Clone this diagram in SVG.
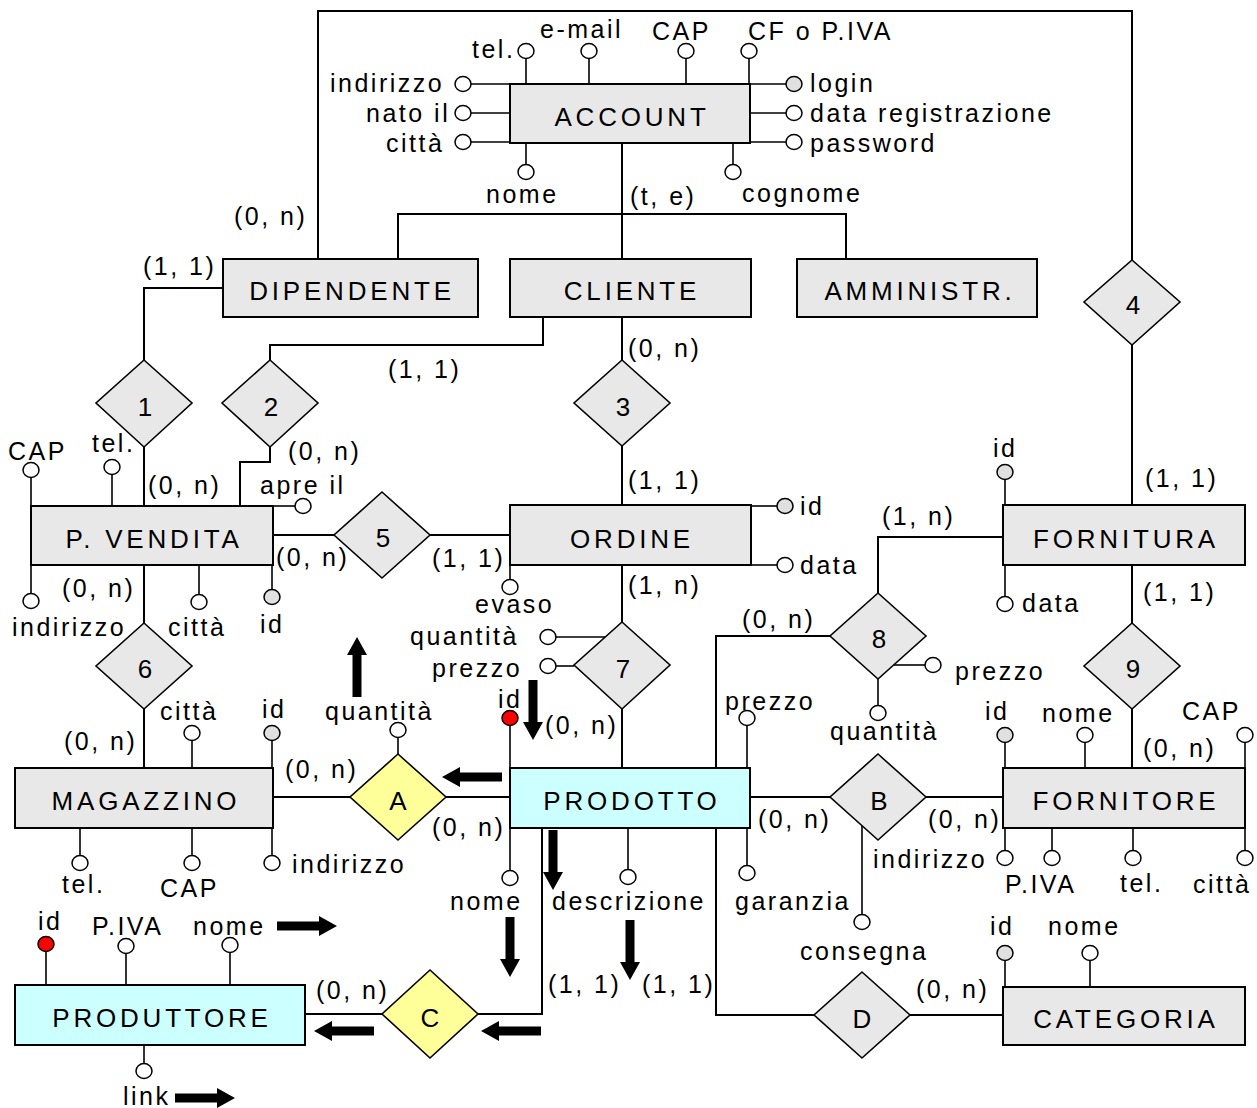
<svg xmlns="http://www.w3.org/2000/svg" xmlns:xlink="http://www.w3.org/1999/xlink" width="1257" height="1108" viewBox="0 0 1257 1108">
<style>
.ent{fill:#e8e8e8;stroke:#000;stroke-width:2}
.cy{fill:#ccffff;stroke:#000;stroke-width:2}
.rel{fill:#e8e8e8;stroke:#000;stroke-width:1.6}
.yel{fill:#ffff99;stroke:#000;stroke-width:1.6}
.ln{fill:none;stroke:#000;stroke-width:2}
.st{fill:none;stroke:#000;stroke-width:1.6}
.at{fill:#fff;stroke:#000;stroke-width:1.5}
.key{fill:#e0e0e0;stroke:#000;stroke-width:1.5}
.red{fill:#ff0000;stroke:#000;stroke-width:1.5}
text{font-family:"Liberation Sans",Arial,sans-serif;fill:#000}
.t{font-size:25px;letter-spacing:2.5px}
.en{font-size:26px;letter-spacing:3.8px;text-anchor:middle}
.dn{font-size:26px;text-anchor:middle}
.arr{fill:#000}
</style>
<defs>
<path id="ar" d="M-4.5,0 H4.5 V42 H10 L0,60 L-10,42 H-4.5 Z"/>
</defs>

<g id="connectors">
<polyline class="ln" points="318,259 318,11 1132,11 1132,260"/>
<line class="ln" x1="622" y1="143" x2="622" y2="259"/>
<polyline class="ln" points="398,259 398,214 846,214 846,259"/>
<polyline class="ln" points="223,288 144,288 144,360"/>
<line class="ln" x1="144" y1="447" x2="144" y2="506"/>
<polyline class="ln" points="543,317 543,345 270,345 270,360"/>
<polyline class="ln" points="270,447 270,462 240,462 240,506"/>
<line class="ln" x1="622" y1="317" x2="622" y2="360"/>
<line class="ln" x1="622" y1="446" x2="622" y2="505"/>
<line class="ln" x1="273" y1="535" x2="334" y2="535"/>
<line class="ln" x1="430" y1="535" x2="510" y2="535"/>
<line class="ln" x1="622" y1="565" x2="622" y2="622"/>
<line class="ln" x1="622" y1="709" x2="622" y2="768"/>
<line class="ln" x1="144" y1="565" x2="144" y2="623"/>
<line class="ln" x1="144" y1="709" x2="144" y2="768"/>
<line class="ln" x1="273" y1="797" x2="350" y2="797"/>
<line class="ln" x1="446" y1="797" x2="510" y2="797"/>
<line class="ln" x1="750" y1="797" x2="830" y2="797"/>
<line class="ln" x1="926" y1="797" x2="1003" y2="797"/>
<line class="ln" x1="1132" y1="345" x2="1132" y2="505"/>
<line class="ln" x1="1132" y1="565" x2="1132" y2="623"/>
<line class="ln" x1="1132" y1="709" x2="1132" y2="768"/>
<polyline class="ln" points="1003,537 878,537 878,593"/>
<polyline class="ln" points="830,636 716,636 716,768"/>
<polyline class="ln" points="716,828 716,1015 814,1015"/>
<line class="ln" x1="910" y1="1015" x2="1003" y2="1015"/>
<polyline class="ln" points="542,828 542,1014 478,1014"/>
<line class="ln" x1="383" y1="1014" x2="305" y2="1014"/>
</g>

<g id="cardinalities" class="t">
<text x="234" y="225">(0, n)</text>
<text x="630" y="205">(t, e)</text>
<text x="143" y="275">(1, 1)</text>
<text x="388" y="378">(1, 1)</text>
<text x="628" y="357">(0, n)</text>
<text x="148" y="494">(0, n)</text>
<text x="288" y="460">(0, n)</text>
<text x="628" y="489">(1, 1)</text>
<text x="1145" y="487">(1, 1)</text>
<text x="882" y="525">(1, n)</text>
<text x="276" y="566">(0, n)</text>
<text x="432" y="567">(1, 1)</text>
<text x="62" y="597">(0, n)</text>
<text x="628" y="594">(1, n)</text>
<text x="1143" y="601">(1, 1)</text>
<text x="742" y="628">(0, n)</text>
<text x="545" y="734">(0, n)</text>
<text x="64" y="750">(0, n)</text>
<text x="1143" y="757">(0, n)</text>
<text x="285" y="778">(0, n)</text>
<text x="432" y="836">(0, n)</text>
<text x="758" y="828">(0, n)</text>
<text x="928" y="828">(0, n)</text>
<text x="548" y="993">(1, 1)</text>
<text x="642" y="993">(1, 1)</text>
<text x="316" y="999">(0, n)</text>
<text x="916" y="998">(0, n)</text>
</g>

<g id="account">
<line class="st" x1="526" y1="58" x2="526" y2="84"/>
<line class="st" x1="589" y1="58" x2="589" y2="84"/>
<line class="st" x1="686" y1="58" x2="686" y2="84"/>
<line class="st" x1="749" y1="58" x2="749" y2="143"/>
<line class="st" x1="471" y1="84" x2="510" y2="84"/>
<line class="st" x1="471" y1="113" x2="510" y2="113"/>
<line class="st" x1="471" y1="142" x2="510" y2="142"/>
<line class="st" x1="526" y1="143" x2="526" y2="165"/>
<line class="st" x1="733" y1="143" x2="733" y2="165"/>
<line class="st" x1="750" y1="84" x2="786" y2="84"/>
<line class="st" x1="745" y1="113" x2="786" y2="113"/>
<line class="st" x1="750" y1="142" x2="786" y2="142"/>
<rect class="ent" x="510" y="84" width="240" height="59"/>
<text class="en" x="632" y="126">ACCOUNT</text>
<ellipse class="at" cx="526" cy="51" rx="8" ry="7.5"/>
<ellipse class="at" cx="589" cy="51" rx="8" ry="7.5"/>
<ellipse class="at" cx="686" cy="51" rx="8" ry="7.5"/>
<ellipse class="at" cx="749" cy="51" rx="8" ry="7.5"/>
<ellipse class="at" cx="463" cy="84" rx="8" ry="7.5"/>
<ellipse class="at" cx="463" cy="113" rx="8" ry="7.5"/>
<ellipse class="at" cx="463" cy="142" rx="8" ry="7.5"/>
<ellipse class="at" cx="526" cy="172" rx="8" ry="7.5"/>
<ellipse class="at" cx="733" cy="172" rx="8" ry="7.5"/>
<ellipse class="key" cx="794" cy="84" rx="8" ry="7.5"/>
<ellipse class="at" cx="794" cy="113" rx="8" ry="7.5"/>
<ellipse class="at" cx="794" cy="142" rx="8" ry="7.5"/>
<g class="t">
<text x="472" y="58">tel.</text>
<text x="540" y="38">e-mail</text>
<text x="652" y="40">CAP</text>
<text x="748" y="40">CF o P.IVA</text>
<text x="330" y="92">indirizzo</text>
<text x="366" y="122">nato il</text>
<text x="386" y="152">città</text>
<text x="486" y="203">nome</text>
<text x="742" y="202">cognome</text>
<text x="810" y="92">login</text>
<text x="810" y="122">data registrazione</text>
<text x="810" y="152">password</text>
</g>
</g>

<g id="dipendente">
<rect class="ent" x="223" y="259" width="255" height="58"/>
<text class="en" x="352" y="300">DIPENDENTE</text>
</g>
<g id="cliente">
<rect class="ent" x="510" y="259" width="241" height="58"/>
<text class="en" x="632" y="300">CLIENTE</text>
</g>
<g id="amministr">
<rect class="ent" x="797" y="259" width="240" height="58"/>
<text class="en" x="920" y="300">AMMINISTR.</text>
</g>

<g id="rel1"><polygon class="rel" points="144,360 192,403 144,447 96,403"/><text class="dn" x="145" y="416">1</text></g>
<g id="rel2"><polygon class="rel" points="270,360 318,403 270,447 222,403"/><text class="dn" x="271" y="416">2</text></g>
<g id="rel3"><polygon class="rel" points="622,360 670,403 622,446 574,403"/><text class="dn" x="623" y="416">3</text></g>
<g id="rel4"><polygon class="rel" points="1132,260 1180,302 1132,345 1084,302"/><text class="dn" x="1133" y="314">4</text></g>
<g id="rel5"><polygon class="rel" points="382,492 430,535 382,578 334,535"/><text class="dn" x="383" y="547">5</text></g>
<g id="rel6"><polygon class="rel" points="144,623 192,666 144,709 96,666"/><text class="dn" x="145" y="678">6</text></g>

<g id="rel7">
<line class="st" x1="556" y1="637" x2="606" y2="637"/>
<line class="st" x1="556" y1="666" x2="574" y2="666"/>
<polygon class="rel" points="622,622 670,665 622,709 574,665"/>
<text class="dn" x="623" y="678">7</text>
<ellipse class="at" cx="548" cy="637" rx="8" ry="7.5"/>
<ellipse class="at" cx="548" cy="666" rx="8" ry="7.5"/>
<text class="t" x="410" y="645">quantità</text>
<text class="t" x="432" y="677">prezzo</text>
</g>

<g id="rel8">
<line class="st" x1="894" y1="665" x2="925" y2="665"/>
<line class="st" x1="878" y1="679" x2="878" y2="706"/>
<polygon class="rel" points="878,593 926,636 878,679 830,636"/>
<text class="dn" x="879" y="648">8</text>
<ellipse class="at" cx="933" cy="665" rx="8" ry="7.5"/>
<ellipse class="at" cx="878" cy="713" rx="8" ry="7.5"/>
<text class="t" x="955" y="680">prezzo</text>
<text class="t" x="830" y="740">quantità</text>
</g>

<g id="rel9"><polygon class="rel" points="1132,623 1180,666 1132,709 1084,666"/><text class="dn" x="1133" y="678">9</text></g>

<g id="relA">
<line class="st" x1="398" y1="737" x2="398" y2="754"/>
<polygon class="yel" points="398,754 446,797 398,840 350,797"/>
<text class="dn" x="398" y="810">A</text>
<ellipse class="at" cx="398" cy="730" rx="8" ry="7.5"/>
<text class="t" x="325" y="720">quantità</text>
</g>

<g id="relB">
<line class="st" x1="862" y1="826" x2="862" y2="915"/>
<polygon class="rel" points="878,754 926,797 878,840 830,797"/>
<text class="dn" x="879" y="810">B</text>
<ellipse class="at" cx="862" cy="922" rx="8" ry="7.5"/>
<text class="t" x="800" y="960">consegna</text>
</g>

<g id="relC"><polygon class="yel" points="430,970 478,1014 430,1058 382,1014"/><text class="dn" x="430" y="1027">C</text></g>
<g id="relD"><polygon class="rel" points="862,972 910,1015 862,1058 814,1015"/><text class="dn" x="862" y="1028">D</text></g>

<g id="pvendita">
<line class="st" x1="31" y1="477" x2="31" y2="506"/>
<line class="st" x1="112" y1="474" x2="112" y2="506"/>
<line class="st" x1="273" y1="506" x2="295" y2="506"/>
<line class="st" x1="31" y1="565" x2="31" y2="594"/>
<line class="st" x1="199" y1="565" x2="199" y2="595"/>
<line class="st" x1="272" y1="565" x2="272" y2="590"/>
<rect class="ent" x="31" y="506" width="242" height="59"/>
<text class="en" x="154" y="548">P. VENDITA</text>
<ellipse class="at" cx="31" cy="470" rx="8" ry="7.5"/>
<ellipse class="at" cx="112" cy="467" rx="8" ry="7.5"/>
<ellipse class="at" cx="303" cy="506" rx="8" ry="7.5"/>
<ellipse class="at" cx="31" cy="601" rx="8" ry="7.5"/>
<ellipse class="at" cx="199" cy="602" rx="8" ry="7.5"/>
<ellipse class="key" cx="272" cy="597" rx="8" ry="7.5"/>
<g class="t">
<text x="8" y="460">CAP</text>
<text x="92" y="452">tel.</text>
<text x="260" y="494">apre il</text>
<text x="12" y="636">indirizzo</text>
<text x="168" y="636">città</text>
<text x="260" y="633">id</text>
</g>
</g>

<g id="ordine">
<line class="st" x1="751" y1="506" x2="777" y2="506"/>
<line class="st" x1="751" y1="565" x2="777" y2="565"/>
<line class="st" x1="510" y1="565" x2="510" y2="580"/>
<rect class="ent" x="510" y="505" width="241" height="60"/>
<text class="en" x="632" y="548">ORDINE</text>
<ellipse class="key" cx="785" cy="506" rx="8" ry="7.5"/>
<ellipse class="at" cx="785" cy="565" rx="8" ry="7.5"/>
<ellipse class="at" cx="510" cy="587" rx="8" ry="7.5"/>
<g class="t">
<text x="800" y="515">id</text>
<text x="800" y="574">data</text>
<text x="475" y="613">evaso</text>
</g>
</g>

<g id="fornitura">
<line class="st" x1="1005" y1="479" x2="1005" y2="505"/>
<line class="st" x1="1005" y1="565" x2="1005" y2="597"/>
<rect class="ent" x="1003" y="505" width="242" height="60"/>
<text class="en" x="1126" y="548">FORNITURA</text>
<ellipse class="key" cx="1005" cy="472" rx="8" ry="7.5"/>
<ellipse class="at" cx="1005" cy="604" rx="8" ry="7.5"/>
<text class="t" x="993" y="457">id</text>
<text class="t" x="1022" y="612">data</text>
</g>

<g id="magazzino">
<line class="st" x1="192" y1="740" x2="192" y2="768"/>
<line class="st" x1="272" y1="740" x2="272" y2="768"/>
<line class="st" x1="80" y1="828" x2="80" y2="856"/>
<line class="st" x1="192" y1="828" x2="192" y2="856"/>
<line class="st" x1="272" y1="828" x2="272" y2="856"/>
<rect class="ent" x="15" y="768" width="258" height="60"/>
<text class="en" x="146" y="810">MAGAZZINO</text>
<ellipse class="at" cx="192" cy="733" rx="8" ry="7.5"/>
<ellipse class="key" cx="272" cy="733" rx="8" ry="7.5"/>
<ellipse class="at" cx="80" cy="863" rx="8" ry="7.5"/>
<ellipse class="at" cx="192" cy="863" rx="8" ry="7.5"/>
<ellipse class="at" cx="272" cy="863" rx="8" ry="7.5"/>
<g class="t">
<text x="160" y="720">città</text>
<text x="262" y="718">id</text>
<text x="62" y="893">tel.</text>
<text x="160" y="897">CAP</text>
<text x="292" y="873">indirizzo</text>
</g>
</g>

<g id="prodotto">
<line class="st" x1="510" y1="725" x2="510" y2="768"/>
<line class="st" x1="747" y1="725" x2="747" y2="768"/>
<line class="st" x1="510" y1="828" x2="510" y2="871"/>
<line class="st" x1="628" y1="828" x2="628" y2="870"/>
<line class="st" x1="747" y1="828" x2="747" y2="866"/>
<rect class="cy" x="510" y="768" width="240" height="60"/>
<text class="en" x="632" y="810">PRODOTTO</text>
<ellipse class="red" cx="510" cy="718" rx="8" ry="7.5"/>
<ellipse class="at" cx="747" cy="718" rx="8" ry="7.5"/>
<ellipse class="at" cx="510" cy="878" rx="8" ry="7.5"/>
<ellipse class="at" cx="628" cy="877" rx="8" ry="7.5"/>
<ellipse class="at" cx="747" cy="873" rx="8" ry="7.5"/>
<g class="t">
<text x="498" y="708">id</text>
<text x="725" y="710">prezzo</text>
<text x="450" y="910">nome</text>
<text x="552" y="910">descrizione</text>
<text x="735" y="910">garanzia</text>
</g>
</g>

<g id="fornitore">
<line class="st" x1="1005" y1="742" x2="1005" y2="768"/>
<line class="st" x1="1085" y1="742" x2="1085" y2="768"/>
<line class="st" x1="1245" y1="742" x2="1245" y2="768"/>
<line class="st" x1="1005" y1="828" x2="1005" y2="851"/>
<line class="st" x1="1052" y1="828" x2="1052" y2="851"/>
<line class="st" x1="1133" y1="828" x2="1133" y2="851"/>
<line class="st" x1="1245" y1="828" x2="1245" y2="851"/>
<rect class="ent" x="1003" y="768" width="242" height="60"/>
<text class="en" x="1126" y="810">FORNITORE</text>
<ellipse class="key" cx="1005" cy="735" rx="8" ry="7.5"/>
<ellipse class="at" cx="1085" cy="735" rx="8" ry="7.5"/>
<ellipse class="at" cx="1245" cy="735" rx="8" ry="7.5"/>
<ellipse class="at" cx="1005" cy="858" rx="8" ry="7.5"/>
<ellipse class="at" cx="1052" cy="858" rx="8" ry="7.5"/>
<ellipse class="at" cx="1133" cy="858" rx="8" ry="7.5"/>
<ellipse class="at" cx="1245" cy="858" rx="8" ry="7.5"/>
<g class="t">
<text x="985" y="720">id</text>
<text x="1042" y="722">nome</text>
<text x="1182" y="720">CAP</text>
<text x="873" y="868">indirizzo</text>
<text x="1005" y="893">P.IVA</text>
<text x="1120" y="892">tel.</text>
<text x="1193" y="893">città</text>
</g>
</g>

<g id="categoria">
<line class="st" x1="1005" y1="960" x2="1005" y2="987"/>
<line class="st" x1="1090" y1="960" x2="1090" y2="987"/>
<rect class="ent" x="1003" y="987" width="242" height="58"/>
<text class="en" x="1126" y="1028">CATEGORIA</text>
<ellipse class="key" cx="1005" cy="953" rx="8" ry="7.5"/>
<ellipse class="at" cx="1090" cy="953" rx="8" ry="7.5"/>
<text class="t" x="990" y="935">id</text>
<text class="t" x="1048" y="935">nome</text>
</g>

<g id="produttore">
<line class="st" x1="46" y1="951" x2="46" y2="985"/>
<line class="st" x1="126" y1="953" x2="126" y2="985"/>
<line class="st" x1="230" y1="952" x2="230" y2="985"/>
<line class="st" x1="144" y1="1045" x2="144" y2="1064"/>
<rect class="cy" x="15" y="985" width="290" height="60"/>
<text class="en" x="162" y="1027">PRODUTTORE</text>
<ellipse class="red" cx="46" cy="944" rx="8" ry="7.5"/>
<ellipse class="at" cx="126" cy="946" rx="8" ry="7.5"/>
<ellipse class="at" cx="230" cy="945" rx="8" ry="7.5"/>
<ellipse class="at" cx="144" cy="1071" rx="8" ry="7.5"/>
<g class="t">
<text x="38" y="930">id</text>
<text x="92" y="935">P.IVA</text>
<text x="193" y="935">nome</text>
<text x="123" y="1105">link</text>
</g>
</g>

<g id="arrows" class="arr">
<use xlink:href="#ar" href="#ar" transform="translate(357,697) rotate(180)"/>
<use xlink:href="#ar" href="#ar" transform="translate(502,777) rotate(90)"/>
<use xlink:href="#ar" href="#ar" transform="translate(533,680)"/>
<use xlink:href="#ar" href="#ar" transform="translate(553,830)"/>
<use xlink:href="#ar" href="#ar" transform="translate(510,917)"/>
<use xlink:href="#ar" href="#ar" transform="translate(630,920)"/>
<use xlink:href="#ar" href="#ar" transform="translate(541,1031) rotate(90)"/>
<use xlink:href="#ar" href="#ar" transform="translate(374,1031) rotate(90)"/>
<use xlink:href="#ar" href="#ar" transform="translate(277,926) rotate(-90)"/>
<use xlink:href="#ar" href="#ar" transform="translate(175,1098) rotate(-90)"/>
</g>
</svg>
